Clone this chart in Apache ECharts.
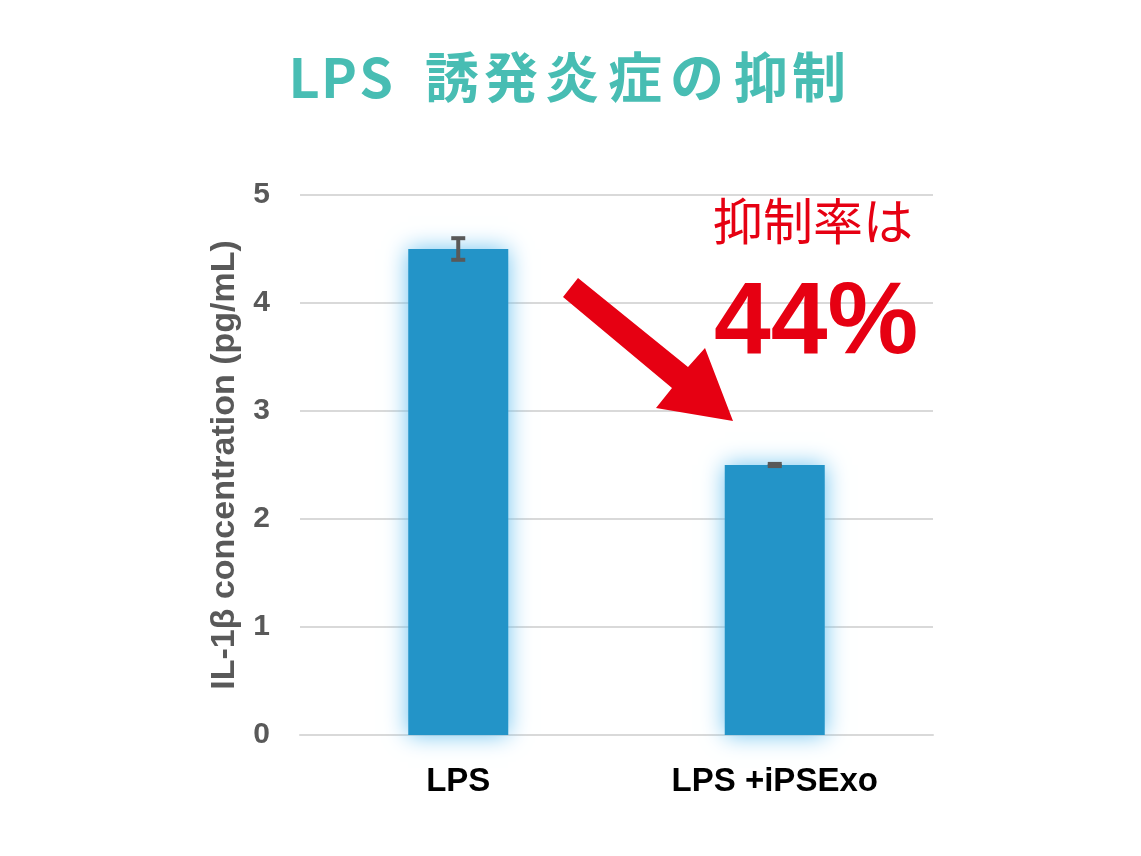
<!DOCTYPE html>
<html>
<head>
<meta charset="utf-8">
<script src="https://cdn.jsdelivr.net/npm/echarts@6/dist/echarts.min.js"></script>
<style>
  html, body { margin: 0; padding: 0; background: #fff; }
  #chart { width: 1141px; height: 856px; }
</style>
</head>
<body>
<div id="chart"></div>
<script>
// data
var groups = ['LPS', 'LPS +iPSExo']
var means = [4.5, 2.5]
var errors = [0.1, 0.01]
var yTicks = [0, 1, 2, 3, 4, 5]

var titleChars = ['L', 'P', 'S', '誘', '発', '炎', '症', 'の', '抑', '制']
var titleX = [304, 339, 376, 452, 511, 572, 635, 697, 761, 819]

var chart = echarts.init(document.getElementById('chart'))

var titleParts = titleChars.map(function (ch, i) {
  return {
    type: 'text',
    x: titleX[i],
    y: 77,
    style: {
      text: ch,
      fill: '#48bdb3',
      font: 'bold 54px "Noto Sans CJK JP", "Noto Sans", sans-serif',
      textAlign: 'center',
      textVerticalAlign: 'middle'
    }
  }
})

var option = {
  animation: false,
  grid: { left: 300, right: 208, top: 195, bottom: 121 },
  xAxis: {
    type: 'category',
    data: groups,
    axisLine: { lineStyle: { color: '#d9d9d9', width: 2 } },
    axisTick: { show: false },
    axisLabel: {
      margin: 30,
      color: '#000',
      fontSize: 33,
      fontWeight: 'bold',
      fontFamily: 'Liberation Sans, Arial, sans-serif'
    }
  },
  yAxis: {
    type: 'value',
    min: yTicks[0],
    max: yTicks[yTicks.length - 1],
    interval: 1,
    name: 'IL-1β concentration (pg/mL)',
    nameLocation: 'middle',
    nameGap: 58,
    nameTextStyle: {
      color: '#595959',
      fontSize: 34,
      fontWeight: 'bold',
      fontFamily: 'Liberation Sans, Arial, sans-serif'
    },
    axisLine: { show: false },
    axisTick: { show: false },
    splitLine: { lineStyle: { color: '#d9d9d9', width: 2 } },
    axisLabel: {
      margin: 30,
      color: '#595959',
      fontSize: 30,
      fontWeight: 'bold',
      fontFamily: 'Liberation Sans, Arial, sans-serif'
    }
  },
  series: [
    {
      type: 'bar',
      data: means,
      barWidth: 100,
      itemStyle: {
        color: '#2394c8',
        borderColor: 'rgba(150,210,240,0.6)',
        borderWidth: 0,
        shadowColor: 'rgba(110,195,240,1)',
        shadowBlur: 22
      }
    },
    {
      type: 'custom',
      data: means.map(function (m, i) { return [i, m - errors[i], m + errors[i]] }),
      renderItem: function (params, api) {
        var lo = api.coord([api.value(0), api.value(1)])
        var hi = api.coord([api.value(0), api.value(2)])
        var half = 7
        var st = { stroke: '#595959', lineWidth: 4 }
        return {
          type: 'group',
          children: [
            { type: 'line', shape: { x1: hi[0], y1: hi[1], x2: lo[0], y2: lo[1] }, style: st },
            { type: 'line', shape: { x1: hi[0] - half, y1: hi[1], x2: hi[0] + half, y2: hi[1] }, style: st },
            { type: 'line', shape: { x1: lo[0] - half, y1: lo[1], x2: lo[0] + half, y2: lo[1] }, style: st }
          ]
        }
      },
      z: 5
    }
  ],
  graphic: titleParts.concat([
    {
      type: 'polygon',
      shape: {
        points: [[578, 278], [688, 367], [705, 348], [733, 421], [656, 408], [672, 388], [563, 297]]
      },
      style: { fill: '#e60012' },
      z: 10
    },
    {
      type: 'text',
      x: 813,
      y: 221,
      style: {
        text: '抑制率は',
        fill: '#e60012',
        font: '50px "Noto Sans CJK JP", sans-serif',
        textAlign: 'center',
        textVerticalAlign: 'middle'
      },
      z: 10
    },
    {
      type: 'text',
      x: 816,
      y: 325,
      style: {
        text: '44%',
        fill: '#e60012',
        font: 'bold 102px "Liberation Sans", Arial, sans-serif',
        textAlign: 'center',
        textVerticalAlign: 'middle'
      },
      z: 10
    }
  ])
}

chart.setOption(option)
</script>
</body>
</html>
